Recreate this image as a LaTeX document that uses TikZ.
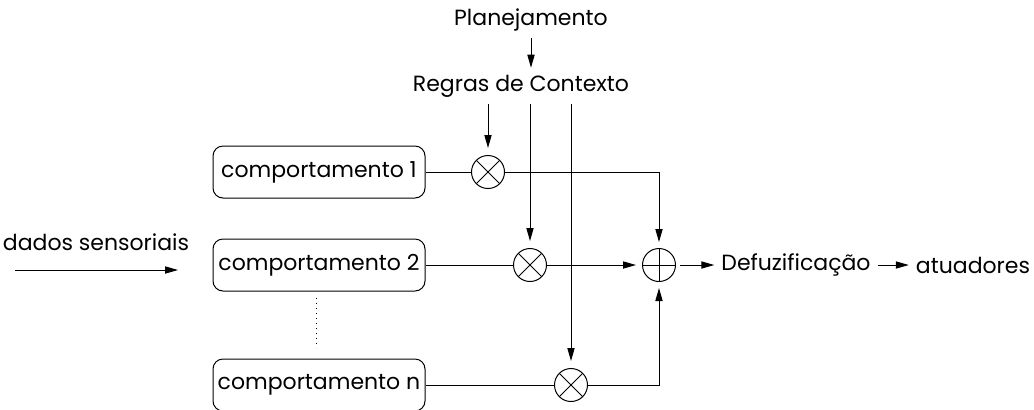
\documentclass[tikz,border=0pt]{standalone}
\usepackage{fontspec}
\setmainfont{Poppins}
\usetikzlibrary{arrows.meta}
\tikzstyle{comport}=[draw,rounded corners=5pt,minimum width=106pt,minimum height=26pt,inner sep=0pt]
\tikzstyle{mult}=[draw,circle,minimum size=16.5pt,inner sep=0pt,
  path picture={\draw (path picture bounding box.north west) -- (path picture bounding box.south east)
                      (path picture bounding box.north east) -- (path picture bounding box.south west);}]
\tikzstyle{soma}=[draw,circle,minimum size=16.5pt,inner sep=0pt,
  path picture={\draw (path picture bounding box.north) -- (path picture bounding box.south)
                      (path picture bounding box.west) -- (path picture bounding box.east);}]
\tikzstyle{seta}=[-{Triangle[length=6.5pt,width=3.6pt]}]

\begin{document}
\begin{tikzpicture}[x=0.5pt,y=-0.5pt,line width=0.5pt,font=\fontsize{11}{13}\selectfont]
    \useasboundingbox (0,0) rectangle (1034,409);
    \node (plan) at (531,20) {Planejamento};
    \node (regras) at (521,86) {Regras de Contexto};
    \node (dados) at (96,242) {dados sensoriais};
    \node[comport] (c1) at (319,172) {comportamento 1};
    \node[comport] (c2) at (319,265) {comportamento 2};
    \node[comport] (cn) at (319,385) {comportamento n};
    \node[mult] (m1) at (488,172) {};
    \node[mult] (m2) at (530,265) {};
    \node[mult] (mn) at (571,385) {};
    \node[soma] (s) at (659,265) {};
    \node (defuz) at (796,265) {Defuzificação};
    \node (atu) at (973,265) {atuadores};
    \coordinate (din) at (15,270);
    \coordinate (dout) at (178,270);
    \coordinate (p1) at (316,298);
    \coordinate (p2) at (316,348);

    \draw[seta] (plan.south) -- (plan.south |- regras.north);
    \foreach \m in {m1,m2,mn}
    \draw[seta,shorten >=3.5pt] (\m |- regras.south) -- (\m.north);
    \foreach \from/\to in {c1/m1,c2/m2,cn/mn}
    \draw (\from.east) -- (\to.west);
    \draw[seta,shorten >=3pt] (m1.east) -- (s |- m1) -- (s.north);
    \draw[seta,shorten >=3pt] (m2.east) -- (s.west);
    \draw[seta,shorten >=3pt] (mn.east) -- (s |- mn) -- (s.south);
    \draw[seta,shorten <=2pt] (s.east) -- (defuz.west);
    \draw[seta] (defuz.east) -- (atu.west);
    \draw[seta] (din) -- (dout);
    \draw[dotted] (p1) -- (p2);
\end{tikzpicture}
\end{document}
